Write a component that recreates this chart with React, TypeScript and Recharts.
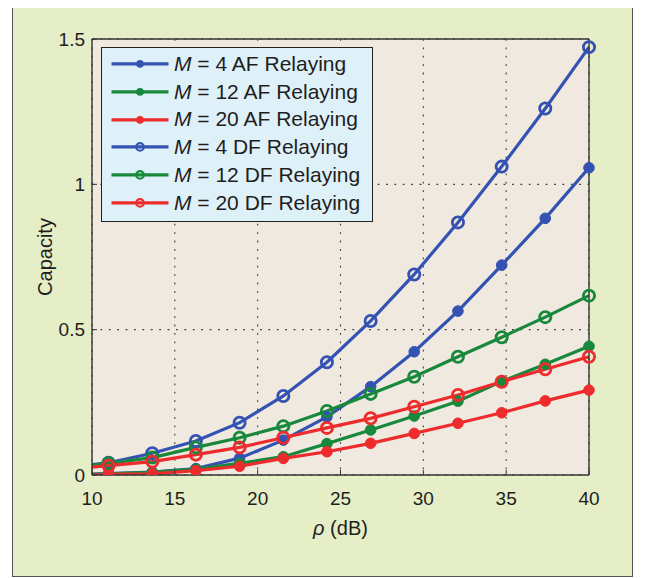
import React from 'react';
import { LineChart, Line, XAxis, YAxis, CartesianGrid, Legend } from 'recharts';

// rho (dB) sample positions (first entry = line start at the axis edge, no marker)
const rho = [10, 11, 13.64, 16.27, 18.91, 21.55, 24.18, 26.82, 29.45, 32.09, 34.73, 37.36, 40];
const af4 = [0.003, 0.005, 0.01, 0.022, 0.058, 0.12, 0.2, 0.304, 0.424, 0.564, 0.722, 0.883, 1.057];
const af12 = [0.002, 0.004, 0.009, 0.02, 0.04, 0.063, 0.108, 0.155, 0.203, 0.254, 0.322, 0.381, 0.443];
const af20 = [0, 0.002, 0.004, 0.015, 0.03, 0.057, 0.08, 0.109, 0.143, 0.178, 0.214, 0.255, 0.292];
const df4 = [0.036, 0.042, 0.075, 0.117, 0.18, 0.272, 0.388, 0.53, 0.69, 0.869, 1.061, 1.261, 1.472];
const df12 = [0.033, 0.04, 0.06, 0.095, 0.128, 0.168, 0.22, 0.279, 0.338, 0.407, 0.474, 0.543, 0.617];
const df20 = [0.027, 0.032, 0.046, 0.07, 0.095, 0.128, 0.162, 0.195, 0.235, 0.275, 0.321, 0.364, 0.407];

const xTicks = [10, 15, 20, 25, 30, 35, 40];
const yTicks = [0, 0.5, 1, 1.5];

const seriesKeys = ['af4', 'af12', 'af20', 'df4', 'df12', 'df20'];
const seriesLabels = ['4 AF Relaying', '12 AF Relaying', '20 AF Relaying', '4 DF Relaying', '12 DF Relaying', '20 DF Relaying'];

const BLUE = '#3452b2';
const GREEN = '#17883c';
const RED = '#ee2b2d';
const seriesColors = [BLUE, GREEN, RED, BLUE, GREEN, RED];
const seriesFilled = [true, true, true, false, false, false];

const FONT = '"Liberation Sans", Arial, Helvetica, sans-serif';

const data = rho.map((r, i) => ({
  rho: r,
  af4: af4[i],
  af12: af12[i],
  af20: af20[i],
  df4: df4[i],
  df12: df12[i],
  df20: df20[i],
}));

const makeDot = (color: string, filled: boolean) => (props: any) => {
  const { cx, cy, index } = props;
  if (index === 0 || cx == null || cy == null) return <g key={`e-${index}`} />;
  return filled ? (
    <circle key={`d-${index}`} cx={cx} cy={cy} r={5.3} fill={color} stroke={color} strokeWidth={1} />
  ) : (
    <circle key={`d-${index}`} cx={cx} cy={cy} r={5.6} fill="none" stroke={color} strokeWidth={2.8} />
  );
};

const renderLegend = () => (
  <div
    style={{
      width: 272,
      height: 175,
      boxSizing: 'border-box',
      border: '1.5px solid #222',
      background: '#def1f8',
      paddingTop: 2,
      fontFamily: FONT,
    }}
  >
    {seriesKeys.map((k, i) => (
      <div key={k} style={{ display: 'flex', alignItems: 'center', height: 27.8 }}>
        <svg width={72} height={27.8} style={{ flex: 'none' }}>
          <line x1={9.5} x2={66.5} y1={13.9} y2={13.9} stroke={seriesColors[i]} strokeWidth={3.4} />
          {seriesFilled[i] ? (
            <circle cx={38} cy={13.9} r={3.8} fill={seriesColors[i]} />
          ) : (
            <circle cx={38} cy={13.9} r={3.8} fill="none" stroke={seriesColors[i]} strokeWidth={2.2} />
          )}
        </svg>
        <span style={{ fontSize: 21, color: '#1e1e1e', whiteSpace: 'nowrap', lineHeight: '22px' }}>
          <i>M</i> = {seriesLabels[i]}
        </span>
      </div>
    ))}
  </div>
);

const YLabel = (props: any) => {
  const vb = props.viewBox || {};
  const x = (vb.x ?? 0) + 45;
  const y = (vb.y ?? 0) + (vb.height ?? 0) / 2;
  return (
    <text
      x={x}
      y={y}
      transform={`rotate(-90, ${x}, ${y})`}
      textAnchor="middle"
      dominantBaseline="central"
      fontSize={20}
      fontFamily={FONT}
      fill="#1e1e1e"
    >
      Capacity
    </text>
  );
};

const XLabel = (props: any) => {
  const vb = props.viewBox || {};
  const x = (vb.x ?? 0) + (vb.width ?? 0) / 2;
  const y = (vb.y ?? 0) + 53;
  return (
    <text x={x} y={y} textAnchor="middle" dominantBaseline="central" fontSize={20} fontFamily={FONT} fill="#1e1e1e">
      <tspan fontStyle="italic">ρ</tspan>
      <tspan> (dB)</tspan>
    </text>
  );
};

export default function App() {
  return (
    <div style={{ position: 'relative', width: 646, height: 578, marginLeft: -8, marginTop: -8, background: '#fff' }}>
      <div
        style={{
          position: 'absolute',
          left: 12,
          top: 3,
          width: 621,
          height: 574,
          boxSizing: 'border-box',
          border: '1.5px solid #555',
          background: '#e5eec6',
        }}
      />
      <div style={{ position: 'absolute', left: 0, top: 0 }}>
        <LineChart
          width={646}
          height={578}
          data={data}
          margin={{ top: 38, right: 56, bottom: 0, left: 0 }}
        >
          <CartesianGrid
            fill="#efe9df"
            stroke="#3a3a3a"
            strokeDasharray="1.8 6.6"
            strokeWidth={1.1}
            xAxisId="main"
            yAxisId="main"
          />
          <XAxis
            xAxisId="main"
            dataKey="rho"
            type="number"
            domain={[10, 40]}
            ticks={xTicks}
            interval={0}
            height={103}
            tickSize={-5}
            tickMargin={22}
            axisLine={{ stroke: '#333', strokeWidth: 1.4 }}
            tickLine={{ stroke: '#333', strokeWidth: 1 }}
            tick={{ fontSize: 19, fill: '#1e1e1e', fontFamily: FONT }}
            label={<XLabel />}
          />
          <XAxis
            xAxisId="top"
            orientation="top"
            dataKey="rho"
            type="number"
            domain={[10, 40]}
            ticks={xTicks}
            interval={0}
            height={1}
            tickSize={-5}
            tick={false}
            allowDataOverflow
            axisLine={{ stroke: '#333', strokeWidth: 1.4 }}
            tickLine={{ stroke: '#333', strokeWidth: 1 }}
          />
          <YAxis
            yAxisId="main"
            type="number"
            domain={[0, 1.5]}
            ticks={yTicks}
            interval={0}
            width={92}
            tickSize={-5}
            tickMargin={12}
            allowDataOverflow
            axisLine={{ stroke: '#333', strokeWidth: 1.4 }}
            tickLine={{ stroke: '#333', strokeWidth: 1 }}
            tick={{ fontSize: 19, fill: '#1e1e1e', fontFamily: FONT }}
            label={<YLabel />}
          />
          <YAxis
            yAxisId="right"
            orientation="right"
            type="number"
            domain={[0, 1.5]}
            ticks={yTicks}
            interval={0}
            width={1}
            tickSize={-5}
            tick={false}
            allowDataOverflow
            axisLine={{ stroke: '#333', strokeWidth: 1.4 }}
            tickLine={{ stroke: '#333', strokeWidth: 1 }}
          />
          {seriesKeys.map((k, i) => (
            <Line
              key={k}
              xAxisId="main"
              yAxisId="main"
              dataKey={k}
              name={seriesLabels[i]}
              stroke={seriesColors[i]}
              strokeWidth={3.2}
              dot={makeDot(seriesColors[i], seriesFilled[i])}
              activeDot={false}
              isAnimationActive={false}
              type="linear"
            />
          ))}
          <Legend
            layout="vertical"
            align="center"
            verticalAlign="middle"
            content={renderLegend}
            wrapperStyle={{ left: 101, top: 47, width: 272, height: 175 }}
          />
        </LineChart>
      </div>
    </div>
  );
}
